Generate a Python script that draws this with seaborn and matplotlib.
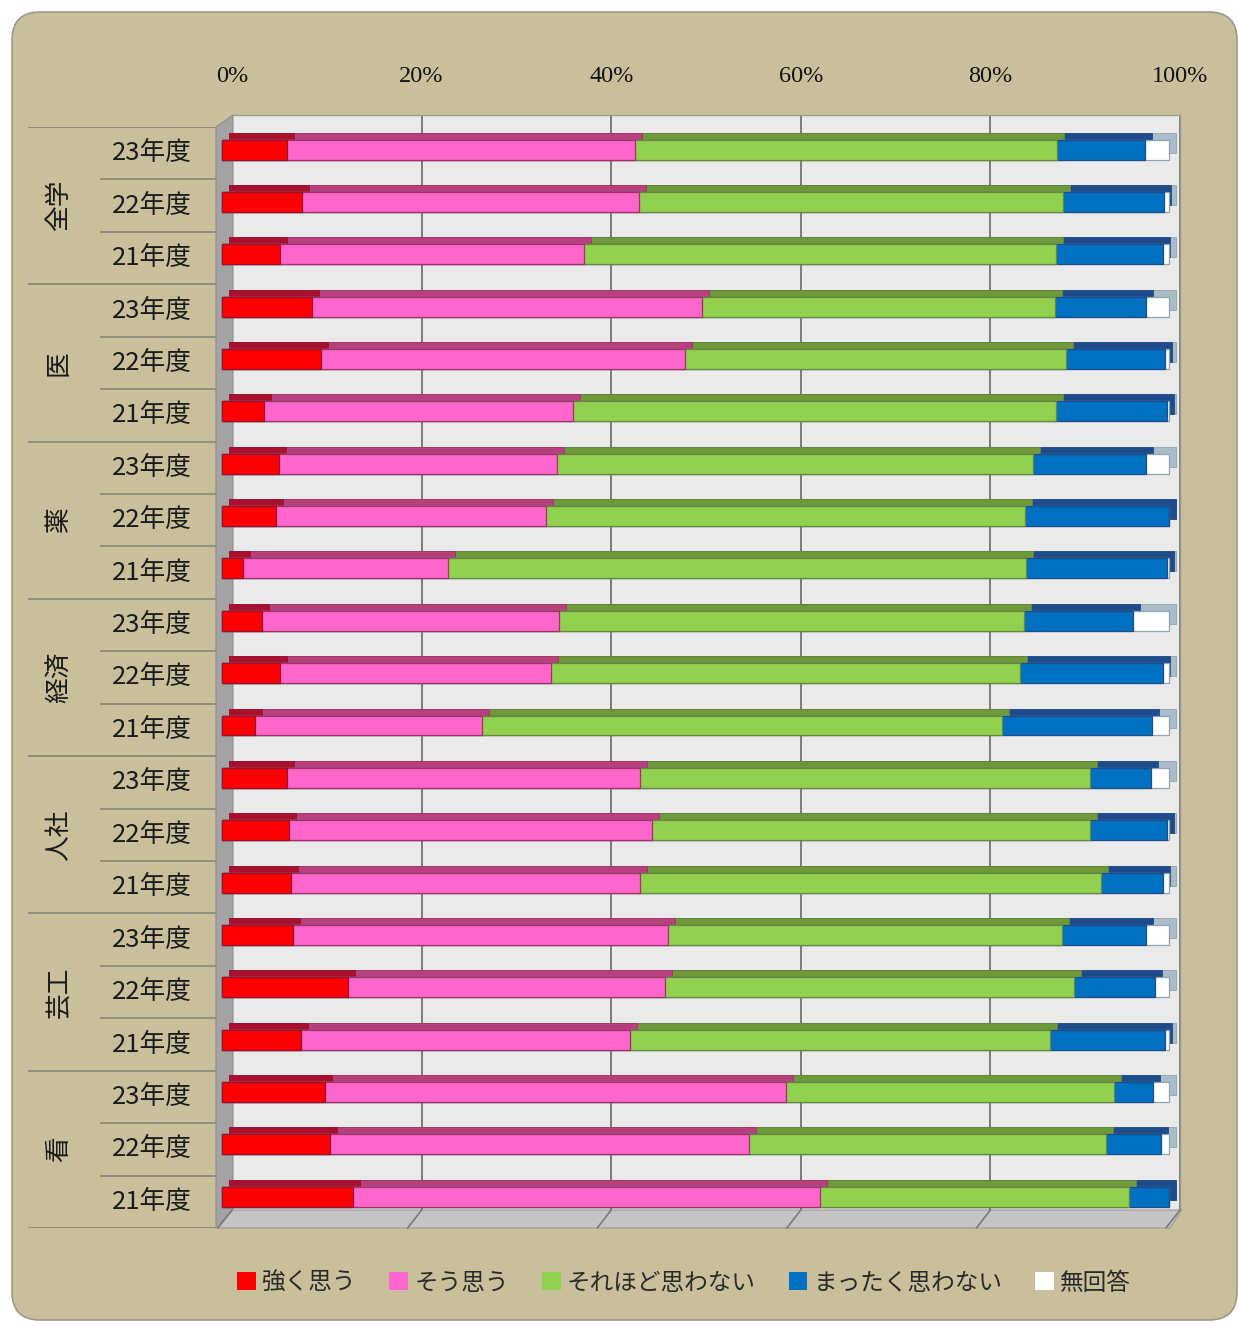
import numpy as np
import pandas as pd
import matplotlib
matplotlib.use("Agg")
import matplotlib.pyplot as plt
import matplotlib.transforms as mtransforms
from matplotlib.patches import Patch, FancyBboxPatch, Polygon
from matplotlib.lines import Line2D
import seaborn as sns

# ---------------- data ----------------
groups = ["全学", "医", "薬", "経済", "人社", "芸工", "看"]
years = ["23年度", "22年度", "21年度"]
categories = ["強く思う", "そう思う", "それほど思わない", "まったく思わない", "無回答"]

strongly   = [6.9, 8.5, 6.2, 9.5, 10.5, 4.5, 6.0, 5.7, 2.3, 4.3, 6.2, 3.5, 6.9, 7.1, 7.3, 7.5, 13.3, 8.4, 10.9, 11.4, 13.9]
agree      = [36.7, 35.5, 32.0, 41.2, 38.4, 32.6, 29.4, 28.5, 21.6, 31.3, 28.6, 24.0, 37.2, 38.3, 36.9, 39.6, 33.5, 34.7, 48.7, 44.3, 49.2]
not_much   = [44.6, 44.8, 49.9, 37.2, 40.2, 50.9, 50.2, 50.6, 61.0, 49.1, 49.5, 54.9, 47.5, 46.2, 48.6, 41.6, 43.1, 44.3, 34.6, 37.6, 32.7]
not_at_all = [9.2, 10.6, 11.2, 9.7, 10.5, 11.8, 12.0, 15.2, 14.9, 11.5, 15.0, 15.8, 6.5, 8.2, 6.5, 8.9, 8.6, 12.2, 4.1, 5.8, 4.2]
no_answer  = [2.6, 0.6, 0.7, 2.4, 0.4, 0.2, 2.4, 0.0, 0.2, 3.8, 0.7, 1.8, 1.9, 0.2, 0.7, 2.4, 1.5, 0.4, 1.7, 0.9, 0.0]

xticks = [0, 20, 40, 60, 80, 100]
xtick_labels = ["0%", "20%", "40%", "60%", "80%", "100%"]

# ---------------- styles ----------------
front_colors = ["#FF0000", "#FF66CC", "#92D050", "#0070C0", "#FFFFFF"]
top_colors   = ["#A8102E", "#B8407E", "#6F9838", "#1E4B8A", "#A9BCC8"]
edge_colors  = ["#9A1030", "#A8306A", "#66883A", "#1E4B8A", "#8FA3B2"]
TAN = "#C9BF9B"
W, H = 1239, 1326

sns.set_theme(style="white")
plt.rcParams["font.family"] = ["Noto Sans CJK JP", "DejaVu Sans"]

rows = [f"{g}{y}" for g in groups for y in years]
values = [strongly, agree, not_much, not_at_all, no_answer]
df = pd.DataFrame({"row": rows})
cum = np.zeros(len(rows))
for i, v in enumerate(values):
    cum = cum + np.array(v)
    df[f"cum{i}"] = cum

fig = plt.figure(figsize=(W / 100, H / 100), dpi=100)
fig.patch.set_facecolor("white")


def px(x, y):
    return (x / 100.0, (H - y) / 100.0)


# chart background (rounded)
bg = FancyBboxPatch(px(12, 1320), (1237 - 12) / 100, (1320 - 12) / 100,
                    boxstyle="round,pad=0,rounding_size=0.28",
                    transform=fig.dpi_scale_trans, facecolor=TAN,
                    edgecolor="#9A9A8A", linewidth=1.2, zorder=0)
fig.add_artist(bg)

# back wall axes (gridlines + top tick labels)
axw = fig.add_axes([232 / W, 1 - 1210 / H, 948 / W, 1095 / H])
axw.set_facecolor("#EAEAEA")
axw.set_xlim(0, 100)
axw.set_ylim(0, 1)
axw.set_yticks([])
axw.set_xticks(xticks)
axw.set_xticklabels(xtick_labels, family="Liberation Serif", fontsize=17.5, color="#111111")
axw.xaxis.tick_top()
axw.tick_params(axis="x", length=0, pad=20)
axw.grid(axis="x", color="#7A7A7A", linewidth=1.4)
for s in axw.spines.values():
    s.set_color("#9A9A9A")
    s.set_linewidth(1.0)
axw.spines["left"].set_visible(False)
axw.spines["bottom"].set_visible(False)
axw.set_zorder(1)

# left wall and floor (3D decoration)
fig.add_artist(Polygon([px(216, 127), px(233, 115), px(233, 1210), px(216, 1228)],
                       closed=True, transform=fig.dpi_scale_trans,
                       facecolor="#A3A3A3", edgecolor="#8E8E8E", lw=0.8, zorder=2))
fig.add_artist(Polygon([px(233, 1210), px(1182, 1210), px(1170, 1228), px(216, 1228)],
                       closed=True, transform=fig.dpi_scale_trans,
                       facecolor="#C4C4C4", edgecolor="#9A9A9A", lw=0.8, zorder=2))
for t in xticks:
    xb = 232 + t * 9.48
    fig.add_artist(Line2D([xb / 100, (xb - 14) / 100], [(H - 1210) / 100, (H - 1228) / 100],
                          transform=fig.dpi_scale_trans, color="#7A7A7A", lw=1.2, zorder=2))

# bar axes (front faces)
ax = fig.add_axes([221.7 / W, 1 - 1222.9 / H, 947.5 / W, 1099.5 / H])
ax.set_facecolor("none")
ax.set_zorder(3)

depth = mtransforms.ScaledTranslation(7 / 100, 7 / 100, fig.dpi_scale_trans)

# top / side faces (shifted copy of each stacked bar)
for i in reversed(range(len(categories))):
    n0 = len(ax.patches)
    sns.barplot(data=df, x=f"cum{i}", y="row", order=rows, orient="h",
                color=top_colors[i], saturation=1, width=0.38, errorbar=None,
                edgecolor=edge_colors[i], linewidth=0.6, ax=ax)
    for p in ax.patches[n0:]:
        p.set_transform(ax.transData + depth)
        p.set_clip_on(False)

# front faces
for i in reversed(range(len(categories))):
    n0 = len(ax.patches)
    sns.barplot(data=df, x=f"cum{i}", y="row", order=rows, orient="h",
                color=front_colors[i], saturation=1, width=0.38, errorbar=None,
                edgecolor=edge_colors[i], linewidth=0.9, ax=ax)
    for p in ax.patches[n0:]:
        p.set_clip_on(False)

ax.set_xlim(0, 100)
ax.set_ylim(len(rows) - 0.5, -0.5)
ax.set_xlabel("")
ax.set_ylabel("")
ax.set_xticks([])
ax.set_yticks([])
for s in ax.spines.values():
    s.set_visible(False)

# category label area
axl = fig.add_axes([28 / W, 1 - 1228 / H, 188 / W, 1101 / H])
axl.set_facecolor("none")
axl.set_xlim(0, 188)
axl.set_ylim(len(rows), 0)
axl.axis("off")
line_col = "#8C8A78"
for k in range(len(rows) + 1):
    x0 = 0 if k % 3 == 0 else 72
    axl.plot([x0, 188], [k, k], color=line_col, lw=1.3, solid_capstyle="butt")
for k, r in enumerate(rows):
    axl.text(124, k + 0.5, years[k % 3], ha="center", va="center",
             fontsize=18.5, color="#1A1A1A")
for g, name in enumerate(groups):
    axl.text(31, 3 * g + 1.5, name, ha="center", va="center", rotation=90,
             fontsize=18.5, color="#1A1A1A")

# legend
handles = [Patch(facecolor=c, edgecolor="none") for c in front_colors]
fig.legend(handles, categories, loc="center", bbox_to_anchor=(684 / W, 1 - 1283 / H),
           ncol=5, frameon=False, fontsize=17, handlelength=0.8, handleheight=0.8,
           handletextpad=0.25, columnspacing=1.4, labelcolor="#2A2A2A")

fig.savefig("out.png", dpi=100, facecolor="white")
